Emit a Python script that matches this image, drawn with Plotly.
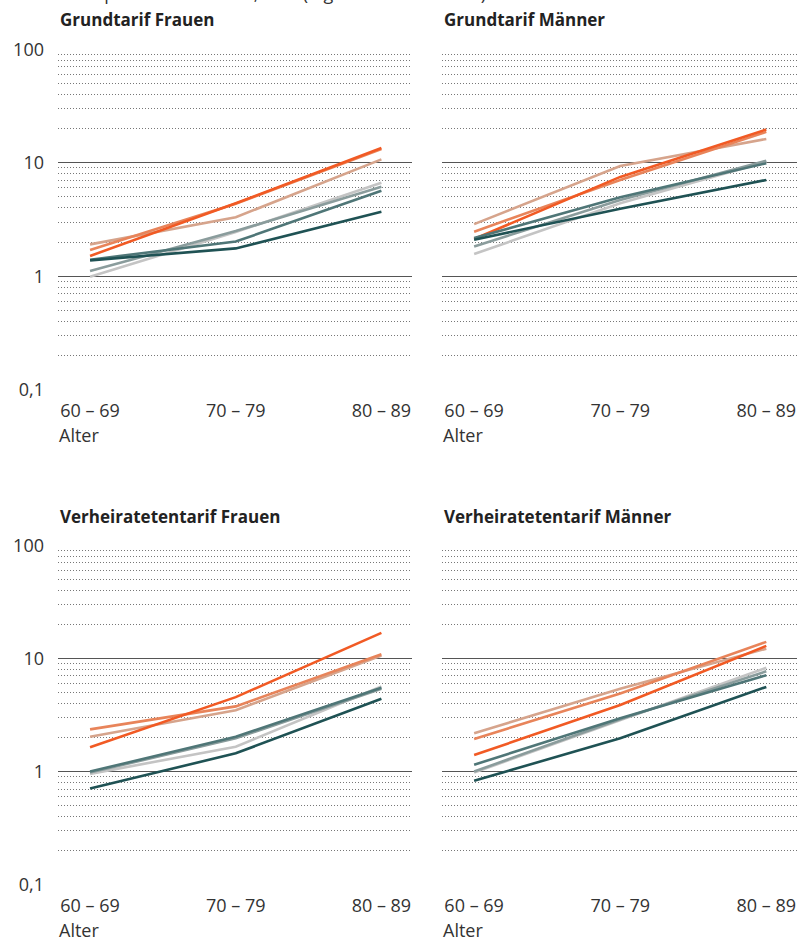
import plotly.graph_objects as go

ages = ["60 \u2013 69", "70 \u2013 79", "80 \u2013 89"]

panel_titles = ["Grundtarif Frauen", "Grundtarif Männer",
                "Verheiratetentarif Frauen", "Verheiratetentarif Männer"]

series_names = ["Gruppe 1", "Gruppe 2", "Gruppe 3", "Gruppe 4",
                "Gruppe 5", "Gruppe 6", "Gruppe 7"]
series_colors = ["#d6a48c", "#e8845a", "#f15a24", "#c4c4c4",
                 "#8a9c9c", "#4f7677", "#1f5254"]

# Grundtarif Frauen
gf_1 = [1.91, 3.31, 10.7]
gf_2 = [1.70, 4.35, 13.2]
gf_3 = [1.51, 4.39, 13.5]
gf_4 = [0.99, 2.45, 6.67]
gf_5 = [1.11, 2.50, 6.15]
gf_6 = [1.40, 2.02, 5.67]
gf_7 = [1.38, 1.76, 3.70]

# Grundtarif Männer
gm_1 = [2.88, 9.35, 16.2]
gm_2 = [2.47, 7.05, 18.7]
gm_3 = [2.13, 7.50, 19.6]
gm_4 = [1.57, 4.40, 10.2]
gm_5 = [1.83, 4.70, 10.4]
gm_6 = [2.17, 4.97, 9.9]
gm_7 = [2.10, 3.93, 7.05]

# Verheiratetentarif Frauen
vf_1 = [2.03, 3.48, 10.6]
vf_2 = [2.36, 3.77, 10.9]
vf_3 = [1.64, 4.55, 16.8]
vf_4 = [0.955, 1.66, 5.65]
vf_5 = [0.98, 1.97, 5.40]
vf_6 = [1.00, 2.03, 5.50]
vf_7 = [0.71, 1.45, 4.40]

# Verheiratetentarif Männer
vm_1 = [2.18, 5.40, 12.2]
vm_2 = [1.94, 4.90, 14.0]
vm_3 = [1.40, 3.87, 12.9]
vm_4 = [0.98, 2.85, 8.26]
vm_5 = [1.00, 2.90, 7.70]
vm_6 = [1.15, 2.96, 7.10]
vm_7 = [0.83, 1.97, 5.60]

panels = [
    [gf_1, gf_2, gf_3, gf_4, gf_5, gf_6, gf_7],
    [gm_1, gm_2, gm_3, gm_4, gm_5, gm_6, gm_7],
    [vf_1, vf_2, vf_3, vf_4, vf_5, vf_6, vf_7],
    [vm_1, vm_2, vm_3, vm_4, vm_5, vm_6, vm_7],
]

y_tickvals = [0.1, 1, 10, 100]
y_ticktext = ["0,1", "1", "10", "100"]
y_minor = [m * d for d in (0.1, 1, 10) for m in range(2, 10)]

W, H = 800, 938
FONT = "Open Sans"
TXT = "#333333"

# panel pixel boxes: (left, right, top, bottom)
boxes = [(58, 412, 49, 390), (442, 797, 49, 390),
         (58, 412, 545, 885), (442, 797, 545, 885)]

fig = go.Figure()
layout = dict(
    width=W, height=H,
    margin=dict(l=0, r=0, t=0, b=0, pad=0, autoexpand=False),
    paper_bgcolor="white", plot_bgcolor="white",
    showlegend=False,
    font=dict(family=FONT, color=TXT, size=18),
)

annotations = []
for i, (data, title, box) in enumerate(zip(panels, panel_titles, boxes)):
    n = i + 1
    xa = "x" if n == 1 else f"x{n}"
    ya = "y" if n == 1 else f"y{n}"
    for vals, name, col in zip(data, series_names, series_colors):
        fig.add_trace(go.Scatter(
            x=ages, y=vals, mode="lines", name=name,
            line=dict(color=col, width=2.6),
            xaxis=xa, yaxis=ya, showlegend=False,
        ))
    l, r, t, b = box
    xkey = "xaxis" if n == 1 else f"xaxis{n}"
    ykey = "yaxis" if n == 1 else f"yaxis{n}"
    layout[xkey] = dict(
        domain=[l / W, r / W], anchor=ya, automargin=False,
        type="category", range=[-0.22, 2.21],
        showgrid=False, zeroline=False, showline=False,
        ticks="", ticklabelstandoff=8,
        tickfont=dict(size=18, color=TXT, family=FONT),
    )
    layout[ykey] = dict(
        domain=[1 - b / H, 1 - t / H], anchor=xa, automargin=False,
        type="log", range=[-1.002, 2.002],
        tickmode="array", tickvals=y_tickvals, ticktext=y_ticktext,
        showticklabels=(n in (1, 3)),
        ticks="", ticklabelstandoff=13,
        tickfont=dict(size=18, color=TXT, family=FONT),
        showgrid=True, gridcolor="#555555", gridwidth=1,
        zeroline=False, showline=False,
        minor=dict(tickmode="array", tickvals=y_minor, showgrid=True,
                   gridcolor="#777777", gridwidth=1, griddash="1px,2px",
                   ticks=""),
    )
    annotations.append(dict(
        text=f"<b>{title}</b>", xref="paper", yref="paper",
        x=l / W, y=1 - (t - 29) / H, xanchor="left", yanchor="middle",
        showarrow=False, font=dict(size=17, color="#222222", family=FONT),
    ))
    annotations.append(dict(
        text="Alter", xref="paper", yref="paper",
        x=(l - 1) / W, y=1 - (b + 45) / H, xanchor="left", yanchor="middle",
        showarrow=False, font=dict(size=18, color=TXT, family=FONT),
    ))

annotations.append(dict(
    text="Todesfälle pro 100 Personen, in % (logarithmische Skala)",
    xref="paper", yref="paper", x=12 / W, y=1, xanchor="left",
    yanchor="bottom", yshift=-7, showarrow=False,
    font=dict(size=18, color=TXT, family=FONT),
))

layout["annotations"] = annotations
fig.update_layout(**layout)
fig.write_html(
    "out.html",
    config={"displayModeBar": False},
    post_script="document.body.style.margin='0';document.body.style.overflow='hidden';",
)
